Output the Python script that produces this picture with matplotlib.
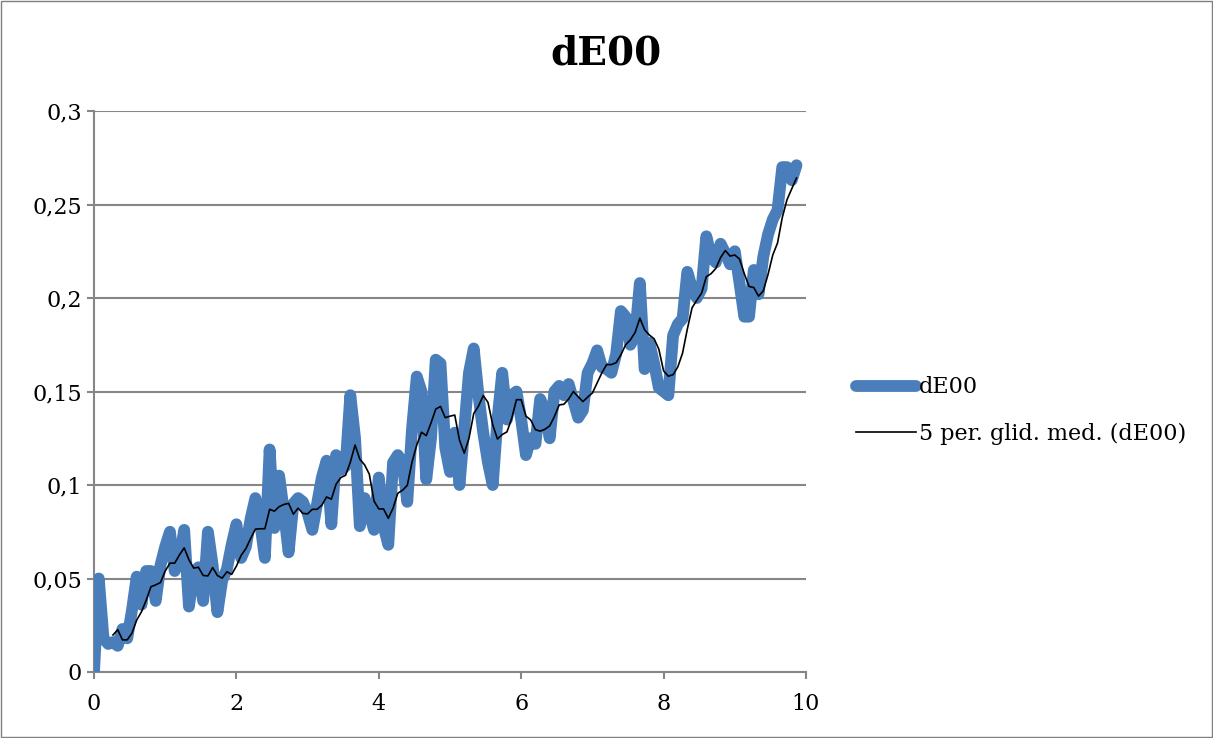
import numpy as np
import pandas as pd
import matplotlib
matplotlib.use("Agg")
import matplotlib.pyplot as plt
from matplotlib.patches import Rectangle

# -----------------------------
# Data
# -----------------------------

de00 = [
    0.000, 0.050, 0.018, 0.015, 0.016, 0.014, 0.023, 0.018, 0.033, 0.051,
    0.036, 0.054, 0.054, 0.038, 0.057, 0.067, 0.075, 0.054, 0.060, 0.076,
    0.035, 0.053, 0.056, 0.038, 0.075, 0.057, 0.032, 0.049, 0.055, 0.068,
    0.079, 0.061, 0.067, 0.082, 0.093, 0.080, 0.061, 0.119, 0.077, 0.105,
    0.086, 0.064, 0.090, 0.093, 0.091, 0.085, 0.076, 0.090, 0.104, 0.113,
    0.079, 0.116, 0.108, 0.110, 0.148, 0.125, 0.078, 0.093, 0.085, 0.076,
    0.104, 0.078, 0.068, 0.112, 0.116, 0.112, 0.091, 0.130, 0.158, 0.150,
    0.103, 0.125, 0.167, 0.165, 0.120, 0.107, 0.128, 0.100, 0.130, 0.160,
    0.173, 0.148, 0.128, 0.112, 0.100, 0.135, 0.160, 0.135, 0.148, 0.150,
    0.135, 0.116, 0.125, 0.122, 0.146, 0.140, 0.125, 0.150, 0.153, 0.148,
    0.154, 0.145, 0.136, 0.140, 0.160, 0.165, 0.172, 0.163, 0.162, 0.160,
    0.170, 0.193, 0.190, 0.175, 0.180, 0.208, 0.162, 0.176, 0.165, 0.152,
    0.150, 0.148, 0.180, 0.186, 0.189, 0.214, 0.205, 0.200, 0.205, 0.233,
    0.222, 0.219, 0.229, 0.224, 0.218, 0.225, 0.208, 0.190, 0.190, 0.215,
    0.202, 0.222, 0.234, 0.242, 0.247, 0.270, 0.270, 0.263, 0.271,
]

x_step = 1 / 15
x_vals = np.arange(len(de00)) * x_step

x_ticks = [0, 2, 4, 6, 8, 10]
y_ticks = [0, 0.05, 0.1, 0.15, 0.2, 0.25, 0.3]
y_tick_labels = ["0", "0,05", "0,1", "0,15", "0,2", "0,25", "0,3"]

title = "dE00"
series_label = "dE00"
trend_label = "5 per. glid. med. (dE00)"
ma_window = 5

# 5 period moving average trendline
trend = pd.Series(de00).rolling(ma_window).mean()

# -----------------------------
# Plot
# -----------------------------

plt.rcParams["font.family"] = ["DejaVu Serif"]

fig = plt.figure(figsize=(12.13, 7.38), dpi=100)
ax = fig.add_axes([94 / 1213, 1 - 672 / 738, 712 / 1213, 561 / 738])

grid_color = "#868686"

ax.plot(x_vals, de00, color="#4a7ebb", linewidth=8.5,
        solid_joinstyle="round", solid_capstyle="round",
        label=series_label, zorder=3)
ax.plot(x_vals, trend, color="black", linewidth=1.2,
        label=trend_label, zorder=4)

ax.set_xlim(0, 10)
ax.set_ylim(0, 0.3)

ax.set_xticks(x_ticks)
ax.set_xticklabels([str(t) for t in x_ticks])
ax.set_yticks(y_ticks)
ax.set_yticklabels(y_tick_labels)

ax.yaxis.grid(True, color=grid_color, linewidth=1.5)
ax.set_axisbelow(True)

for side in ["top", "right"]:
    ax.spines[side].set_visible(False)
for side in ["left", "bottom"]:
    ax.spines[side].set_color(grid_color)
    ax.spines[side].set_linewidth(1.5)

ax.tick_params(axis="both", colors=grid_color, labelcolor="black",
               labelsize=16, length=5, width=1.5, direction="out")
ax.tick_params(axis="x", pad=10)

fig.text(0.5, 0.928, title, ha="center", va="center",
         fontsize=28, fontweight="bold")

ax.legend(loc="center left", bbox_to_anchor=(1.07, 0.466),
          frameon=False, fontsize=16, handlelength=2.7,
          handletextpad=0.15, borderpad=0, borderaxespad=0,
          labelspacing=1.1)

# chart area border
fig.patches.append(Rectangle((0.001, 0.001), 0.998, 0.998,
                             transform=fig.transFigure, fill=False,
                             edgecolor="#7f7f7f", linewidth=1))

plt.savefig("out.png", dpi=100)
